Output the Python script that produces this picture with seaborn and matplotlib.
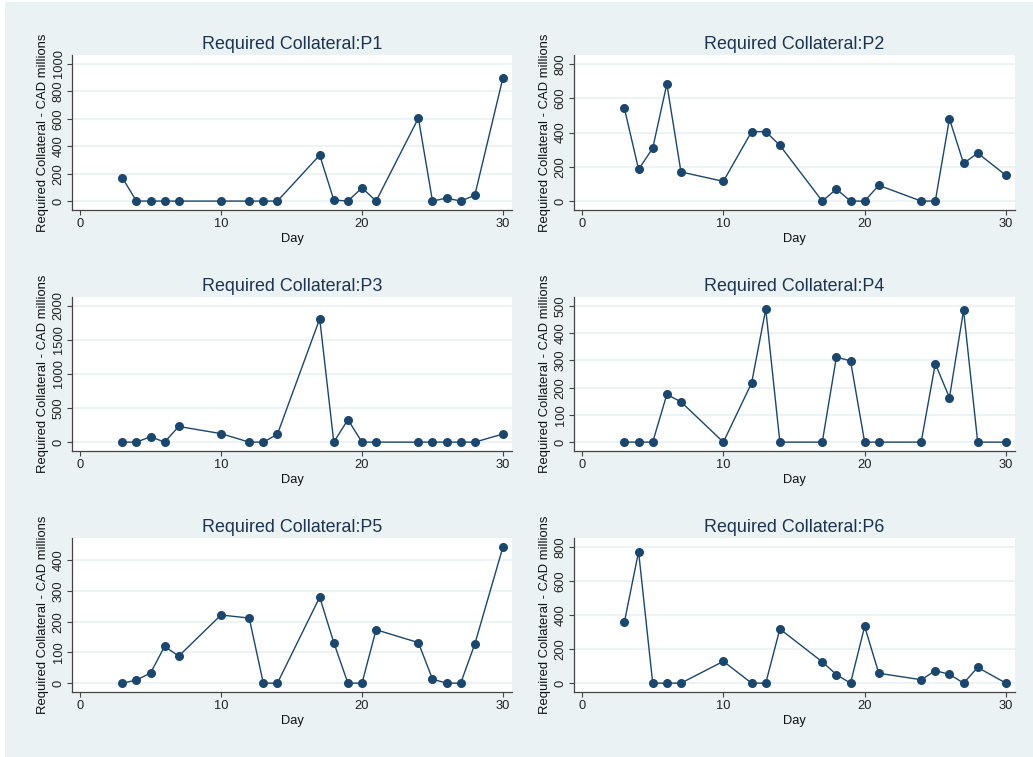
import numpy as np
import pandas as pd
import seaborn as sns
import matplotlib.pyplot as plt
from matplotlib.patches import Rectangle

# trading days shared by all six panels
days = [3, 4, 5, 6, 7, 10, 12, 13, 14, 17, 18, 19, 20, 21, 24, 25, 26, 27, 28, 30]

# required collateral (CAD millions) per participant
p1 = [170, 0, 0, 0, 0, 0, 0, 0, 0, 335, 8, 0, 97, 0, 605, 0, 22, 0, 42, 900]
p2 = [540, 185, 308, 683, 170, 115, 405, 405, 325, 0, 70, 0, 0, 92, 0, 0, 480, 220, 280, 150]
p3 = [0, 0, 80, 0, 230, 125, 0, 0, 115, 1810, 0, 330, 0, 0, 0, 0, 0, 0, 0, 120]
p4 = [0, 0, 0, 175, 148, 0, 217, 488, 0, 0, 312, 298, 0, 0, 0, 288, 163, 484, 0, 0]
p5 = [0, 10, 33, 120, 88, 222, 212, 0, 0, 280, 132, 0, 0, 174, 132, 13, 0, 0, 127, 444]
p6 = [360, 772, 0, 0, 0, 128, 0, 0, 318, 125, 50, 0, 333, 58, 20, 73, 52, 0, 92, 0]

panel_names = ["P1", "P2", "P3", "P4", "P5", "P6"]
panel_values = [p1, p2, p3, p4, p5, p6]
# y tick spacing and last tick for each panel
y_steps = [200, 200, 500, 100, 100, 200]
y_tops = [1000, 800, 2000, 500, 400, 800]
x_ticks = [0, 10, 20, 30]

navy = "#1a476f"
bg = "#eaf2f3"

sns.set_theme(style="ticks")
plt.rcParams['font.family'] = ['Liberation Sans', 'DejaVu Sans']

W, H = 1033, 757
fig = plt.figure(figsize=(W / 100, H / 100), dpi=100, facecolor="white")
# stata-like graph region, kept behind the axes
fig.patches.append(Rectangle((5 / W, 0), 1 - 5 / W, 1 - 2 / H, transform=fig.transFigure,
                             facecolor=bg, edgecolor="none", zorder=-10))

# plot regions in pixels: (left, right) and (top, bottom)
cols = [(72, 512), (574, 1015)]
rows = [(55, 210), (297, 451), (538, 692)]

for i, (name, vals) in enumerate(zip(panel_names, panel_values)):
    l, r = cols[i % 2]
    t, b = rows[i // 2]
    ax = fig.add_axes([l / W, 1 - b / H, (r - l) / W, (b - t) / H])
    ax.set_facecolor("white")

    df = pd.DataFrame({"Day": days, "value": vals})
    sns.lineplot(data=df, x="Day", y="value", ax=ax, color=navy, linewidth=1.0,
                 marker="o", markersize=6.5, markeredgewidth=0, markerfacecolor=navy)

    ymax = max(y_tops[i], max(vals))
    pad = 0.065 * ymax
    ax.set_ylim(-pad, ymax + pad)
    ax.set_yticks(np.arange(0, y_tops[i] + 1, y_steps[i]))
    ax.set_xlim(-0.57, 30.64)
    ax.set_xticks(x_ticks)

    ax.grid(axis="y", color=bg, linewidth=1.3)
    ax.set_axisbelow(True)
    ax.spines[['right', 'top']].set_visible(False)
    for s in ['left', 'bottom']:
        ax.spines[s].set_color("#444444")
        ax.spines[s].set_linewidth(0.9)

    ax.tick_params(axis="both", labelsize=9.3, colors="#444444", labelcolor="#222222",
                   length=3.8, width=0.8, pad=2)
    ax.tick_params(axis="y", labelrotation=90, pad=1.5)
    for lab in ax.get_yticklabels():
        lab.set_va("center")

    ax.set_title("Required Collateral:" + name, fontsize=12.9, color="#1c3354", pad=4)
    ax.set_xlabel("Day", fontsize=9.3, color="#111111", labelpad=2)
    ax.set_ylabel("Required Collateral - CAD millions", fontsize=9.4, color="#111111", labelpad=2.5)

plt.savefig("out.png", dpi=100)
